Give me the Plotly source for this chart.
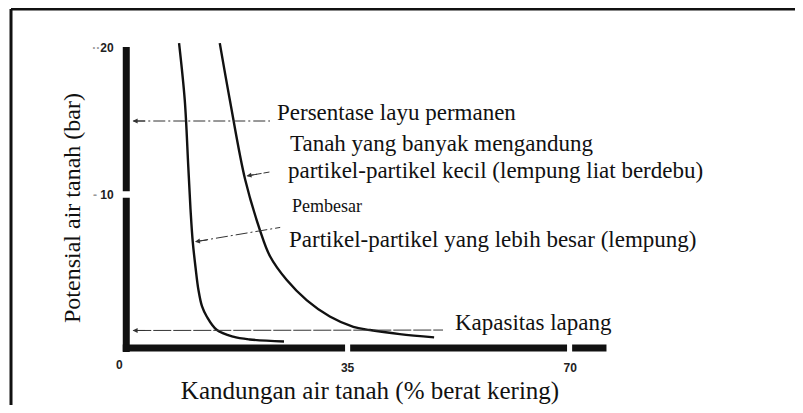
import plotly.graph_objects as go

# kurva retensi air tanah (x = % berat kering, y = potensial air tanah, bar)
lempung_x = [8.5, 9.4, 9.95, 10.3, 10.65, 11.1, 11.55, 12.1, 12.85, 14.4, 17.0, 19.6, 25.0]
lempung_y = [20.3, 16.4, 11.9, 9.0, 6.8, 5.0, 3.5, 2.4, 1.7, 0.8, 0.33, 0.14, 0.0]

liat_x = [14.9, 16.5, 18.9, 21.2, 22.8, 25.4, 28.6, 32.2, 35.9, 38.5, 43.2, 48.6]
liat_y = [20.3, 16.4, 11.0, 7.6, 5.8, 4.2, 2.8, 1.7, 1.0, 0.78, 0.5, 0.28]

x_ticks = [35, 70]
x_labels = ["35", "70"]
y_ticks = [10, 20]
y_labels = ["<span style='color:#999'>-</span> 10", "<span style='color:#999'>··</span>20"]

# titik panah (ujung kiri ke kanan)
layu_y = 15.0
kapasitas_y = 0.75

SERIF = "Liberation Serif, Times New Roman, serif"
NARROW = "Liberation Sans Narrow, Arial Narrow, Liberation Sans, sans-serif"

fig = go.Figure()
for xs, ys in [(lempung_x, lempung_y), (liat_x, liat_y)]:
    fig.add_trace(go.Scatter(x=xs, y=ys, mode="lines", line=dict(color="#111", width=2.4, shape="spline", smoothing=1.0),
                             hoverinfo="skip", showlegend=False))

# batang sumbu yang tebal, dengan celah pada tanda 10, 35, 70
bar = dict(color="#111", width=7)
for y0, y1 in [(-0.71, 9.78), (10.22, 20.03)]:
    fig.add_shape(type="line", x0=0.2, x1=0.2, y0=y0, y1=y1, line=bar)
for x0, x1 in [(-0.35, 34.6), (35.4, 69.5), (70.3, 75.7)]:
    fig.add_shape(type="line", x0=x0, x1=x1, y0=-0.44, y1=-0.44, line=bar)

# garis panah
thin = dict(color="#333", width=1)
fig.add_shape(type="line", x0=1.3, x1=22.8, y0=layu_y, y1=layu_y, line=dict(thin, dash="12px,3px,2px,3px"))
fig.add_shape(type="line", x0=19.3, x1=23.0, y0=11.27, y1=11.55, line=dict(thin, dash="6px,2px"))
fig.add_shape(type="line", x0=11.2, x1=24.4, y0=6.8, y1=7.76, line=dict(thin, dash="12px,3px,2px,3px"))
fig.add_shape(type="line", x0=1.3, x1=50.0, y0=kapasitas_y, y1=0.78, line=dict(thin, dash="18px,2px"))

for x, y, ax, ay in [(1.2, layu_y, 14, 0), (19.1, 11.26, 12, -2), (11.0, 6.79, 14, -2), (1.2, kapasitas_y, 14, 0)]:
    fig.add_annotation(x=x, y=y, ax=ax, ay=ay, text="", showarrow=True, arrowhead=2,
                       arrowsize=1, arrowwidth=1, arrowcolor="#333")

labels = [
    (23.6, 15.6, "Persentase layu permanen", 23),
    (25.7, 13.5, "Tanah yang banyak mengandung", 23),
    (25.3, 11.6, "partikel-partikel kecil (lempung liat berdebu)", 23),
    (25.9, 9.2, "Pembesar", 18),
    (25.4, 6.95, "Partikel-partikel yang lebih besar (lempung)", 23),
    (51.5, 1.3, "Kapasitas lapang", 23),
]
for x, y, t, s in labels:
    fig.add_annotation(x=x, y=y, text=t, showarrow=False, xanchor="left", yanchor="middle",
                       font=dict(family=SERIF, size=s, color="#111"))

fig.add_annotation(x=0, y=-0.71, text="<b>0</b>", showarrow=False, xanchor="center", yanchor="top",
                   xshift=-6, yshift=-4, font=dict(family=NARROW, size=12, color="#222"))

# judul sumbu y sebagai anotasi supaya letaknya bisa diatur
fig.add_annotation(xref="paper", yref="paper", x=-0.052, y=0.447, text="Potensial air tanah (bar)",
                   textangle=-90, showarrow=False, xanchor="center", yanchor="middle",
                   font=dict(family=SERIF, size=24, color="#111"))

# halaman html punya margin 8px: figur dikecilkan (tanpa scrollbar) dan margin digeser 8px
fig.update_layout(
    width=787, height=397,
    margin=dict(l=92, r=155, t=22, b=53),
    paper_bgcolor="white", plot_bgcolor="white",
    font=dict(family=SERIF, color="#111"),
    xaxis=dict(range=[-3.93, 80.97], tickvals=x_ticks, ticktext=x_labels, showgrid=False, zeroline=False,
               showline=False, ticks="outside", ticklen=5, tickcolor="rgba(0,0,0,0)", automargin=False,
               tickfont=dict(family=NARROW, size=12, color="#222", weight="bold"),
               title=dict(text="Kandungan air tanah (% berat kering)", font=dict(family=SERIF, size=25), standoff=9)),
    yaxis=dict(range=[-0.714, 21.19], tickvals=y_ticks, ticktext=y_labels, showgrid=False, zeroline=False,
               showline=False, ticks="outside", ticklen=9, tickcolor="rgba(0,0,0,0)", automargin=False,
               tickfont=dict(family=NARROW, size=12, color="#222", weight="bold"),
               anchor="free", position=0.0463),
    shapes=list(fig.layout.shapes) + [
        dict(type="line", xref="paper", yref="paper", x0=-0.1648, x1=1.35, y0=1.0652, y1=1.0652,
             line=dict(color="#111", width=3)),
        dict(type="line", xref="paper", yref="paper", x0=-0.1648, x1=-0.1648, y0=-0.25, y1=1.0652,
             line=dict(color="#111", width=3)),
    ],
)

fig.write_html("out.html")
